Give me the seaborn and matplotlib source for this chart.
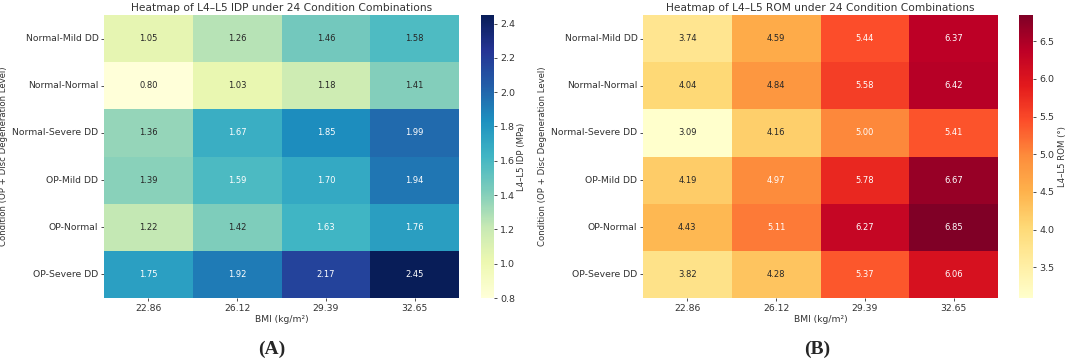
import numpy as np
import pandas as pd
import matplotlib
matplotlib.use("Agg")
import matplotlib.pyplot as plt
import seaborn as sns

conditions = ["Normal-Mild DD", "Normal-Normal", "Normal-Severe DD",
              "OP-Mild DD", "OP-Normal", "OP-Severe DD"]
bmi_labels = ["22.86", "26.12", "29.39", "32.65"]

idp_values = [
    [1.05, 1.26, 1.46, 1.58],
    [0.80, 1.03, 1.18, 1.41],
    [1.36, 1.67, 1.85, 1.99],
    [1.39, 1.59, 1.70, 1.94],
    [1.22, 1.42, 1.63, 1.76],
    [1.75, 1.92, 2.17, 2.45],
]
rom_values = [
    [3.74, 4.59, 5.44, 6.37],
    [4.04, 4.84, 5.58, 6.42],
    [3.09, 4.16, 5.00, 5.41],
    [4.19, 4.97, 5.78, 6.67],
    [4.43, 5.11, 6.27, 6.85],
    [3.82, 4.28, 5.37, 6.06],
]

sns.set_theme(style="white")
plt.rcParams['font.family'] = ['DejaVu Sans']

W, H = 1065, 362
fig = plt.figure(figsize=(W / 100, H / 100), dpi=100)

def box(x0, x1, y0, y1):
    return [x0 / W, 1 - y1 / H, (x1 - x0) / W, (y1 - y0) / H]

panels = [
    (idp_values, "YlGnBu", "Heatmap of L4\u2013L5 IDP under 24 Condition Combinations",
     "L4\u2013L5 IDP (MPa)", (104, 459), (481, 494), 8, 517, "(A)", 272),
    (rom_values, "YlOrRd", "Heatmap of L4\u2013L5 ROM under 24 Condition Combinations",
     "L4\u2013L5 ROM (\u00b0)", (643, 998), (1019, 1033), 547, 1058, "(B)", 817),
]

for vals, cmap, title, cblabel, axx, cbx, ylx, cblx, tag, tagx in panels:
    df = pd.DataFrame(vals, index=conditions, columns=bmi_labels)
    ax = fig.add_axes(box(axx[0], axx[1], 15, 298))
    cax = fig.add_axes(box(cbx[0], cbx[1], 15, 298))
    sns.heatmap(df, ax=ax, cbar_ax=cax, cmap=cmap, annot=True, fmt=".2f",
                annot_kws={"fontsize": 6.0}, cbar_kws={"label": cblabel})
    ax.set_title(title, fontsize=7.7, pad=3, color="#333333")
    ax.set_xlabel("BMI (kg/m\u00b2)", fontsize=6.6, labelpad=2, color="#333333")
    ax.set_ylabel("Condition (OP + Disc Degeneration Level)", fontsize=6.1, color="#333333")
    ax.yaxis.set_label_coords((ylx - axx[0]) / (axx[1] - axx[0]), 0.5)
    ax.tick_params(axis="both", labelsize=6.7, length=2.5, width=0.6, colors="#333333", pad=1.5)
    ax.tick_params(axis="x", bottom=True)
    ax.tick_params(axis="y", left=True, rotation=0)
    cax.tick_params(labelsize=6.8, length=2.5, width=0.6, colors="#333333", pad=2)
    cax.yaxis.label.set_size(6.1)
    cax.yaxis.label.set_color("#333333")
    cax.yaxis.set_label_coords((cblx - cbx[0]) / (cbx[1] - cbx[0]), 0.5)
    fig.text(tagx / W, 1 - 349 / H, tag, fontsize=14, fontweight="bold",
             family="Liberation Serif", ha="center", va="center")

fig.savefig("out.png", dpi=100)
